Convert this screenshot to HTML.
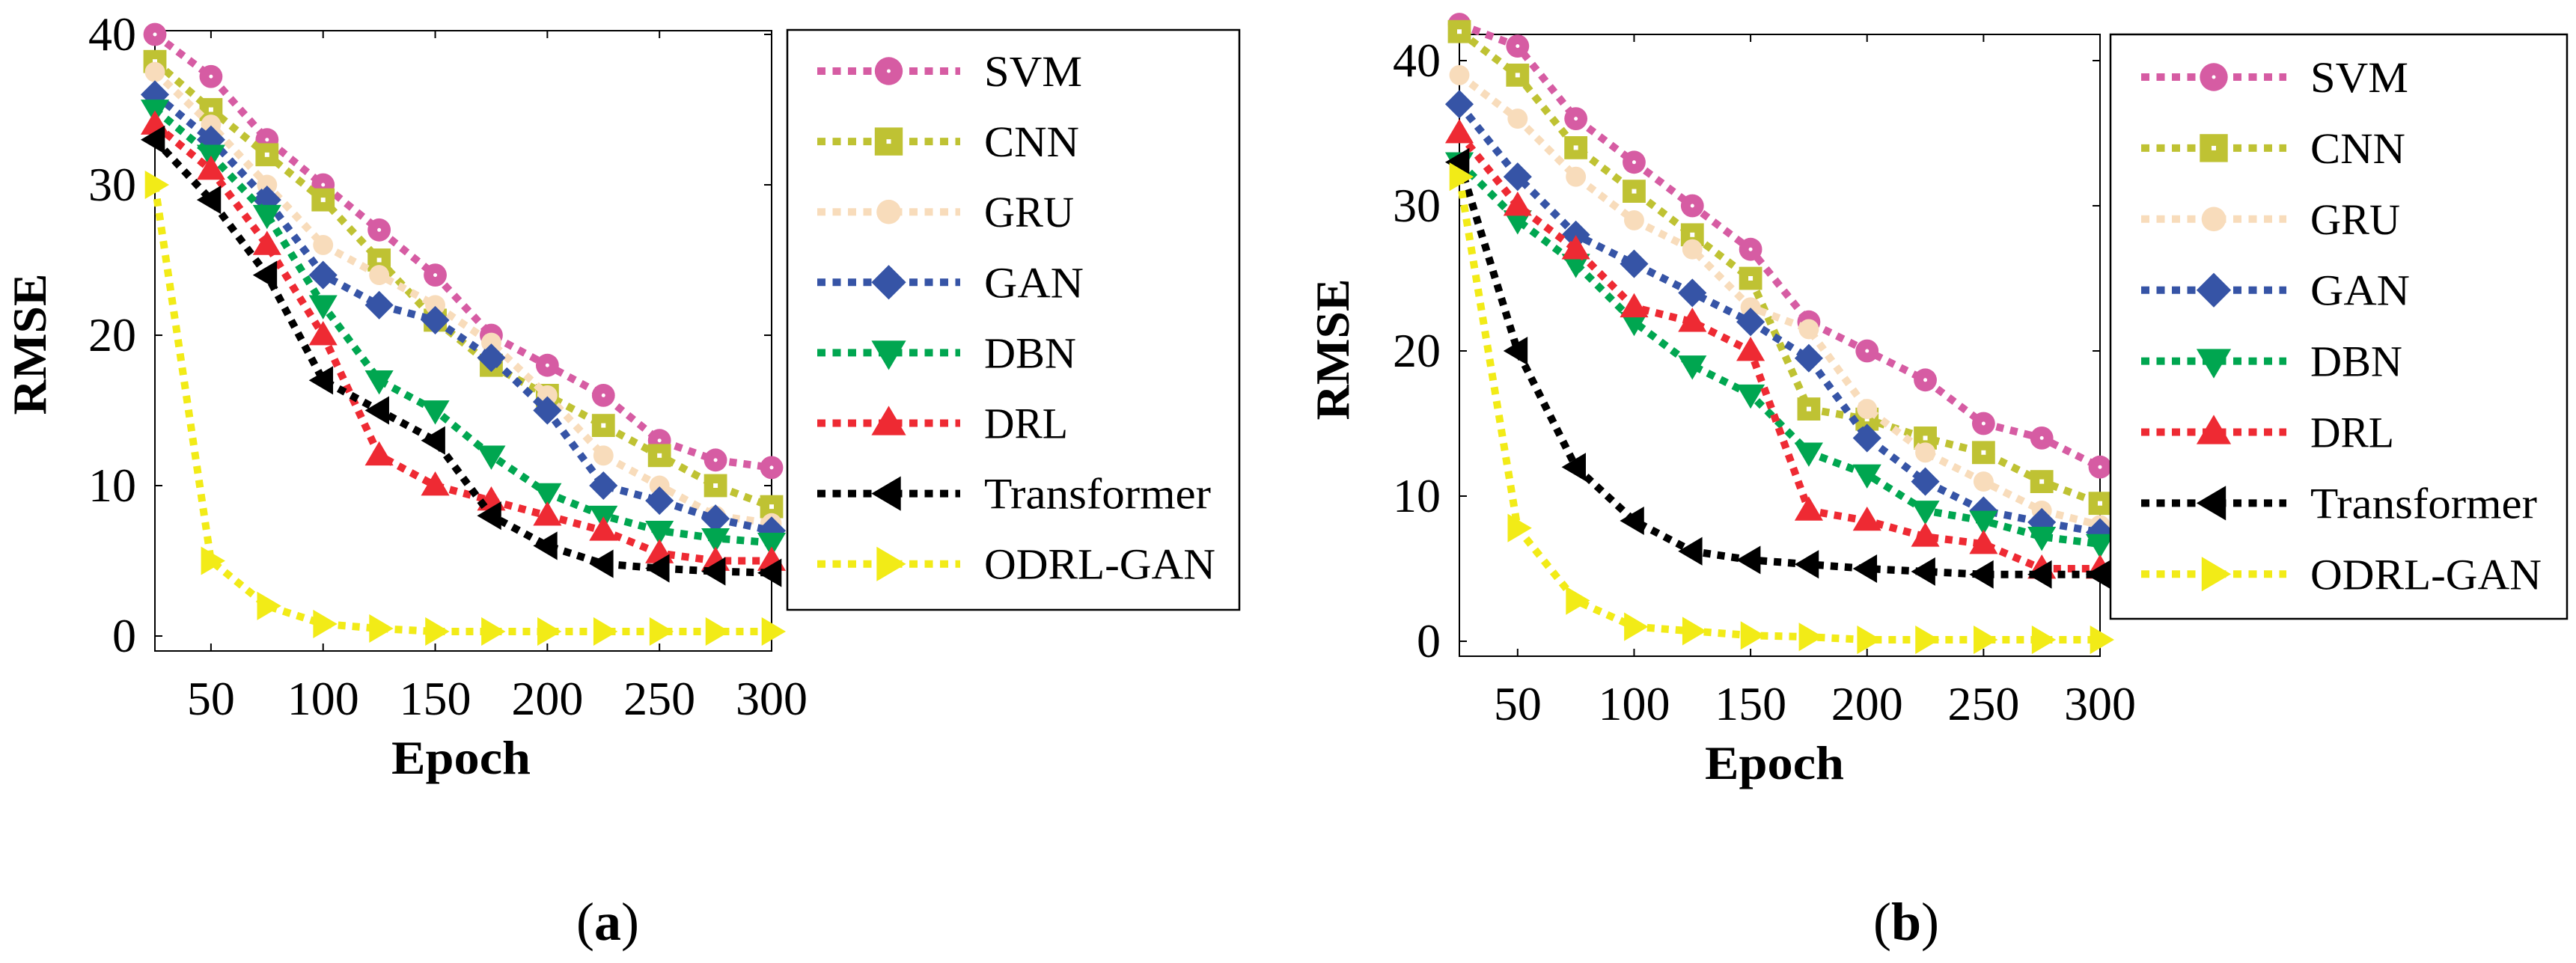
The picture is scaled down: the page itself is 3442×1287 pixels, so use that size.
<!DOCTYPE html>
<html><head><meta charset="utf-8"><style>
html,body{margin:0;padding:0;background:#fff;}
svg{display:block;}
svg text{font-family:"Liberation Serif","DejaVu Serif",serif;fill:#000;}
</style></head><body>
<svg id="fig" width="3442" height="1287" viewBox="0 0 3442 1287" xmlns="http://www.w3.org/2000/svg" font-family="'Liberation Serif', 'DejaVu Serif', serif"></svg>
<script>
const epochs = [25,50,75,100,125,150,175,200,225,250,275,300];
const seriesNames = ["SVM","CNN","GRU","GAN","DBN","DRL","Transformer","ODRL-GAN"];
const seriesColors = ["#d65ca3","#bfc233","#f8dcbb","#3654a6","#00a650","#ee2a33","#000000","#f2eb17"];
const seriesMarkers = ["circle","square","hex","diamond","tridown","triup","trileft","triright"];
const xTicks = [50,100,150,200,250,300];
const yTicks = [0,10,20,30,40];
// panel (a)
const aSVM = [40,37.2,33,30,27,24,20,18,16,13,11.7,11.2];
const aCNN = [38.2,35,32,29,25,21,18,16,14,12,10,8.6];
const aGRU = [37.5,34,30,26,24,22,19.5,16,12,10,8,7.5];
const aGAN = [36,33,29,24,22,21,18.5,15,10,9,7.8,7];
const aDBN = [35,32,28,22,17,15,12,9.5,8,7,6.5,6.2];
const aDRL = [34,31,26,20,12,10,9,8,7,5.5,5,5];
const aTransformer = [33,29,24,17,15,13,8,6,4.8,4.5,4.3,4.2];
const aODRL = [30,5,2,0.8,0.5,0.3,0.3,0.3,0.3,0.3,0.3,0.3];
// panel (b)
const bSVM = [42.5,41,36,33,30,27,22,20,18,15,14,12];
const bCNN = [42,39,34,31,28,25,16,15.3,14,13,11,9.5];
const bGRU = [39,36,32,29,27,23,21.5,16,13,11,9,8];
const bGAN = [37,32,28,26,24,22,19.5,14,11,9,8.2,7.5];
const bDBN = [33,29,26,22,19,17,13,11.5,9,8.3,7.2,6.7];
const bDRL = [35,30,27,23,22,20,9,8.3,7.2,6.7,5,5];
const bTransformer = [33,20,12,8.3,6.2,5.6,5.3,5,4.8,4.6,4.6,4.6];
const bODRL = [32,7.8,2.8,1,0.7,0.4,0.3,0.1,0.1,0.1,0.1,0.1];

const NS="http://www.w3.org/2000/svg";
const svg=document.getElementById('fig');
const FF="'Liberation Serif', 'DejaVu Serif', serif";
function mk(tag,attrs,parent){const e=document.createElementNS(NS,tag);for(const k in attrs)e.setAttribute(k,attrs[k]);if(tag==='text')e.setAttribute('font-family',FF);(parent||svg).appendChild(e);return e;}

function marker(g,type,cx,cy,color,s){
  let e;
  if(type==="circle"){e=mk('circle',{cx:cx,cy:cy,r:s*0.55,fill:color},g);mk('circle',{cx:cx,cy:cy,r:2.5,fill:'#fff'},g);}
  else if(type==="square"){e=mk('rect',{x:cx-s*0.55,y:cy-s*0.55,width:s*1.1,height:s*1.1,fill:color},g);mk('rect',{x:cx-3,y:cy-3,width:6,height:6,fill:'#fff'},g);}
  else if(type==="hex"){e=mk('circle',{cx:cx,cy:cy,r:s*0.48,fill:color},g);}
  else{
    let p; const r=s*0.68;
    if(type==="diamond")p=[[cx,cy-r],[cx+r,cy],[cx,cy+r],[cx-r,cy]];
    if(type==="triup")p=[[cx,cy-r],[cx+r,cy+r*0.7],[cx-r,cy+r*0.7]];
    if(type==="tridown")p=[[cx,cy+r],[cx+r,cy-r*0.7],[cx-r,cy-r*0.7]];
    if(type==="trileft")p=[[cx-r,cy],[cx+r*0.7,cy-r],[cx+r*0.7,cy+r]];
    if(type==="triright")p=[[cx+r,cy],[cx-r*0.7,cy-r],[cx-r*0.7,cy+r]];
    e=mk('polygon',{points:p.map(q=>q.join(',')).join(' '),fill:color},g);
  }
  return e;
}

function panel(P){
  const sx=v=>P.x0+(v-25)/(300-25)*(P.x1-P.x0);
  const sy=v=>P.y0v-(v/10)*P.per10;
  const g=mk('g',{});
  
  
  const box=mk('rect',{x:P.x0,y:P.top,width:P.x1-P.x0,height:P.bot-P.top,fill:'none',stroke:'#000','stroke-width':2},g);
  
  
  xTicks.forEach(t=>{
    const x=sx(t);
    mk('line',{x1:x,y1:P.bot,x2:x,y2:P.bot-10,stroke:'#000','stroke-width':2},g);
    mk('line',{x1:x,y1:P.top,x2:x,y2:P.top+10,stroke:'#000','stroke-width':2},g);
    const tx=mk('text',{x:x,y:P.xlabY,'text-anchor':'middle','font-size':64},g);
    tx.textContent=t;
    
    
  });
  yTicks.forEach(t=>{
    const y=sy(t);
    mk('line',{x1:P.x0,y1:y,x2:P.x0+10,y2:y,stroke:'#000','stroke-width':2},g);
    mk('line',{x1:P.x1,y1:y,x2:P.x1-10,y2:y,stroke:'#000','stroke-width':2},g);
    const ty=mk('text',{x:P.ylabX,y:y+21,'text-anchor':'end','font-size':64},g);
    ty.textContent=t;
    
    
  });
  const xt=mk('text',{x:P.epochX,y:P.epochY,'text-anchor':'middle','font-size':64,'font-weight':'bold',textLength:186,lengthAdjust:'spacingAndGlyphs'},g);
  xt.textContent='Epoch';
  
  
  const yt=mk('text',{x:0,y:0,'text-anchor':'middle','font-size':64,'font-weight':'bold',textLength:189,lengthAdjust:'spacingAndGlyphs',transform:`translate(${P.rmseX+22},${P.rmseY}) rotate(-90)`},g);
  yt.textContent='RMSE';
  
  
  P.data.forEach((vals,i)=>{
    const sg=mk('g',{},g);
    
    
    const pts=vals.map((v,j)=>sx(epochs[j])+','+sy(v)).join(' ');
    mk('polyline',{points:pts,fill:'none',stroke:seriesColors[i],'stroke-width':10,'stroke-dasharray':'10 9'},sg);
    vals.forEach((v,j)=>{
      const m=marker(sg,seriesMarkers[i],sx(epochs[j]),sy(v),seriesColors[i],28);
      
      
    });
  });
  const L=P.leg;
  const lg=mk('g',{},g);
  
  
  mk('rect',{x:L.x,y:L.y,width:L.w,height:L.h,fill:'#fff',stroke:'#000','stroke-width':2.5},lg);
  const widths=[131,127,120,133,123,112,303,309];
  seriesNames.forEach((n,i)=>{
    const eg=mk('g',{},lg);
    
    
    const y=L.y0+i*L.dy;
    mk('line',{x1:L.lx0,y1:y,x2:L.lx1,y2:y,stroke:seriesColors[i],'stroke-width':10,'stroke-dasharray':'11 9.5'},eg);
    marker(eg,seriesMarkers[i],(L.lx0+L.lx1)/2,y,seriesColors[i],34);
    const t=mk('text',{x:L.tx,y:y+20,'font-size':58,textLength:widths[i],lengthAdjust:'spacingAndGlyphs'},eg);
    t.textContent=n;
  });
  const c=mk('text',{x:P.capX,y:1256,'text-anchor':'middle','font-size':72},g);
  c.innerHTML='(<tspan font-weight="bold">'+P.cap+'</tspan>)';
  
  
}

panel({name:'panel-a',x0:207,x1:1031,top:41,bot:870,y0v:850,per10:201,xlabY:955,ylabX:182,
  epochX:616,epochY:1034,rmseX:39,rmseY:460,capX:812,cap:'a',
  data:[aSVM,aCNN,aGRU,aGAN,aDBN,aDRL,aTransformer,aODRL],
  leg:{x:1052,y:40,w:604,h:775,y0:95,dy:94.1,lx0:1092,lx1:1283,tx:1315}});
panel({name:'panel-b',x0:1950,x1:2806,top:46,bot:877,y0v:857,per10:194,xlabY:962,ylabX:1925,
  epochX:2371,epochY:1041,rmseX:1780,rmseY:467,capX:2547,cap:'b',
  data:[bSVM,bCNN,bGRU,bGAN,bDBN,bDRL,bTransformer,bODRL],
  leg:{x:2820,y:46,w:610,h:781,y0:103,dy:94.9,lx0:2861,lx1:3055,tx:3087}});
</script>
</body></html>
